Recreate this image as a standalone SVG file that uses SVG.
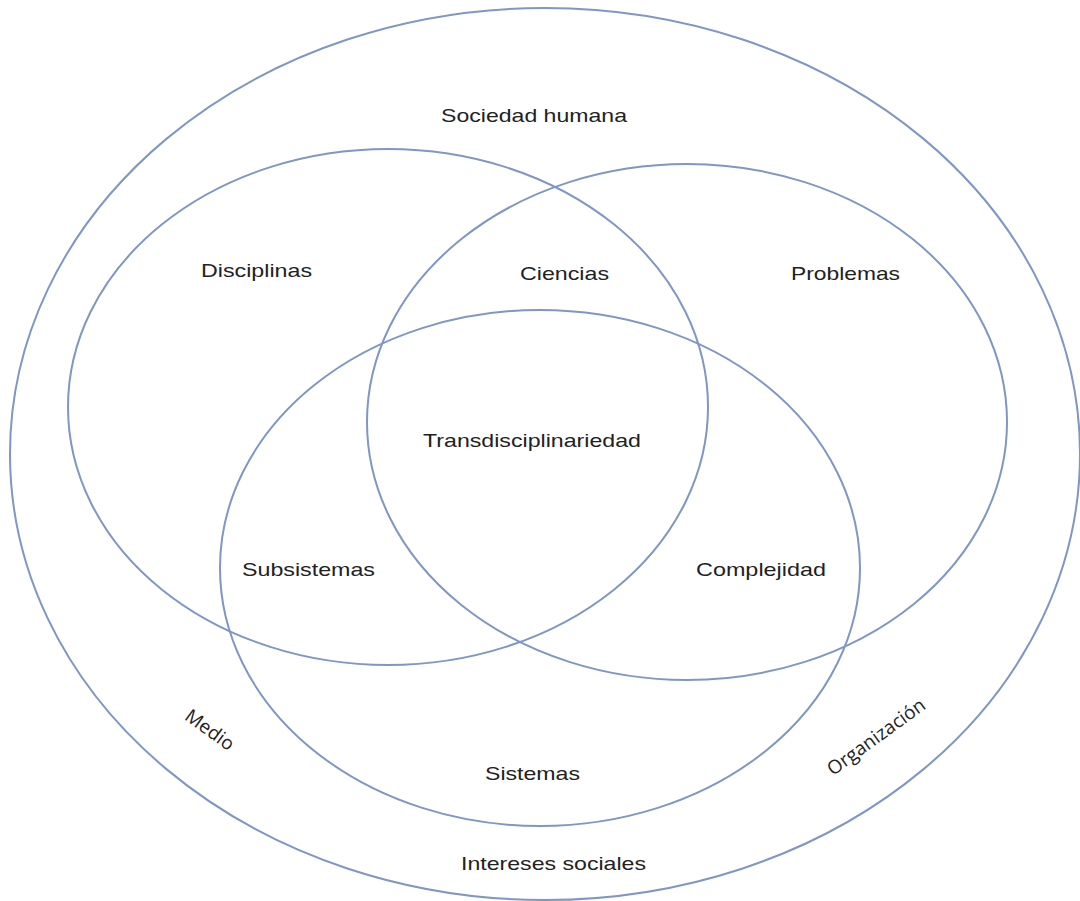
<svg xmlns="http://www.w3.org/2000/svg" width="1080" height="901" viewBox="0 0 1080 901">
<style>
.c{fill:none;stroke:#7f96c6;stroke-width:2}
.t{font-family:"Liberation Sans",Arial,sans-serif;font-size:19px;fill:#222;text-anchor:middle}
.r{font-family:"Open Sans","Liberation Sans",sans-serif;font-size:19px;fill:#222;text-anchor:middle}
</style>
<rect width="1080" height="901" fill="#fff"/>
<g id="sociedad"><ellipse class="c" cx="545" cy="454" rx="535" ry="446"/><text class="t" x="534" y="122" textLength="186" lengthAdjust="spacingAndGlyphs">Sociedad humana</text><text class="t" x="553.5" y="870" textLength="185" lengthAdjust="spacingAndGlyphs">Intereses sociales</text><text class="r" transform="translate(206,735) rotate(36)">Medio</text><text class="r" transform="translate(880,742) rotate(-36)">Organización</text></g>
<g id="disciplinas"><ellipse class="c" cx="388" cy="407" rx="320" ry="258"/><text class="t" x="256.5" y="277" textLength="111" lengthAdjust="spacingAndGlyphs">Disciplinas</text></g>
<g id="problemas"><ellipse class="c" cx="687" cy="422" rx="320" ry="258"/><text class="t" x="845.5" y="280" textLength="109" lengthAdjust="spacingAndGlyphs">Problemas</text></g>
<g id="sistemas"><ellipse class="c" cx="540" cy="568" rx="320" ry="258"/><text class="t" x="532.5" y="780" textLength="95" lengthAdjust="spacingAndGlyphs">Sistemas</text></g>
<g id="labels"><text class="t" x="564.5" y="280" textLength="89" lengthAdjust="spacingAndGlyphs">Ciencias</text><text class="t" x="532" y="447" textLength="218" lengthAdjust="spacingAndGlyphs">Transdisciplinariedad</text><text class="t" x="308.5" y="576" textLength="133" lengthAdjust="spacingAndGlyphs">Subsistemas</text><text class="t" x="761" y="576" textLength="130" lengthAdjust="spacingAndGlyphs">Complejidad</text></g>
</svg>
